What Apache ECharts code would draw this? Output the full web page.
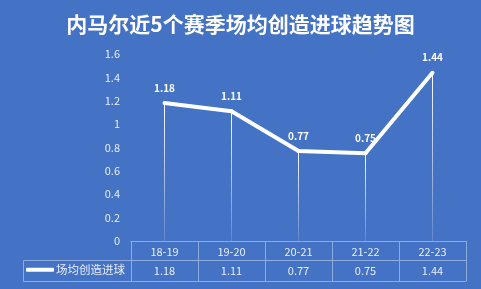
<!DOCTYPE html>
<html>
<head>
<meta charset="utf-8">
<script src="https://cdn.jsdelivr.net/npm/echarts@6/dist/echarts.min.js"></script>
<style>
  html, body { margin: 0; padding: 0; background: #4472c4; }
  #chart { width: 481px; height: 289px; }
</style>
</head>
<body>
<div id="chart"></div>
<script>
var seasons = ['18-19', '19-20', '20-21', '21-22', '22-23']
var goalsCreated = [1.18, 1.11, 0.77, 0.75, 1.44]
var seriesName = '场均创造进球'
var titleText = '内马尔近5个赛季场均创造进球趋势图'

var font = '"Noto Sans CJK SC", "Noto Sans", sans-serif'
var tableLine = '#8faadc'
var textColor = '#e8eef8'

var myChart = echarts.init(document.getElementById('chart'))
var option = {
  backgroundColor: '#4472c4',
  textStyle: { fontFamily: font },
  title: {
    text: titleText,
    left: 'center',
    top: 9,
    textStyle: { color: '#ffffff', fontSize: 21, fontWeight: 'bold', fontFamily: font }
  },
  legend: {
    left: 26,
    top: 264,
    padding: 0,
    itemWidth: 28,
    itemHeight: 4,
    icon: 'roundRect',
    data: [{ name: seriesName, itemStyle: { color: '#ffffff' } }],
    textStyle: { color: textColor, fontSize: 11.5, padding: [0, 0, 0, -3] }
  },
  grid: { left: 131, right: 15, top: 54, bottom: 48 },
  xAxis: [
    {
      type: 'category',
      data: seasons,
      position: 'bottom',
      axisLine: { show: true, lineStyle: { color: tableLine, width: 1 } },
      axisTick: { show: true, inside: false, length: 40, lineStyle: { color: tableLine } },
      axisLabel: { color: textColor, fontSize: 11, margin: 5 }
    },
    {
      type: 'category',
      data: goalsCreated.map(function (v) { return v.toFixed(2) }),
      position: 'bottom',
      offset: 19,
      axisLine: { show: true, lineStyle: { color: tableLine, width: 1 } },
      axisTick: { show: false },
      axisLabel: { color: textColor, fontSize: 11, margin: 5 }
    },
    {
      type: 'category',
      data: seasons,
      position: 'bottom',
      offset: 40,
      axisLine: { show: true, lineStyle: { color: tableLine, width: 1 } },
      axisTick: { show: false },
      axisLabel: { show: false }
    }
  ],
  yAxis: {
    type: 'value',
    min: 0,
    max: 1.6,
    interval: 0.2,
    axisLine: { show: false },
    axisTick: { show: false },
    splitLine: { show: false },
    axisLabel: { color: textColor, fontSize: 11, margin: 11 }
  },
  graphic: [
    {
      type: 'polyline',
      shape: { points: [[131, 260.5], [23.5, 260.5], [23.5, 281.5], [131, 281.5]] },
      style: { stroke: tableLine, fill: null, lineWidth: 1 }
    }
  ],
  series: [
    {
      name: 'drop',
      type: 'bar',
      data: goalsCreated,
      barWidth: 1,
      silent: true,
      itemStyle: {
        color: new echarts.graphic.LinearGradient(0, 0, 0, 1, [
          { offset: 0, color: 'rgba(255,255,255,1)' },
          { offset: 1, color: 'rgba(255,255,255,0.15)' }
        ])
      }
    },
    {
      name: seriesName,
      type: 'line',
      data: goalsCreated,
      showSymbol: true,
      symbol: 'circle',
      symbolSize: 4,
      lineStyle: { color: '#ffffff', width: 4 },
      itemStyle: { color: '#ffffff' },
      label: {
        show: true,
        position: 'top',
        distance: 8,
        color: '#ffffff',
        fontSize: 10,
        fontWeight: 'bold'
      },
      z: 5
    }
  ]
}
option && myChart.setOption(option)
</script>
</body>
</html>
